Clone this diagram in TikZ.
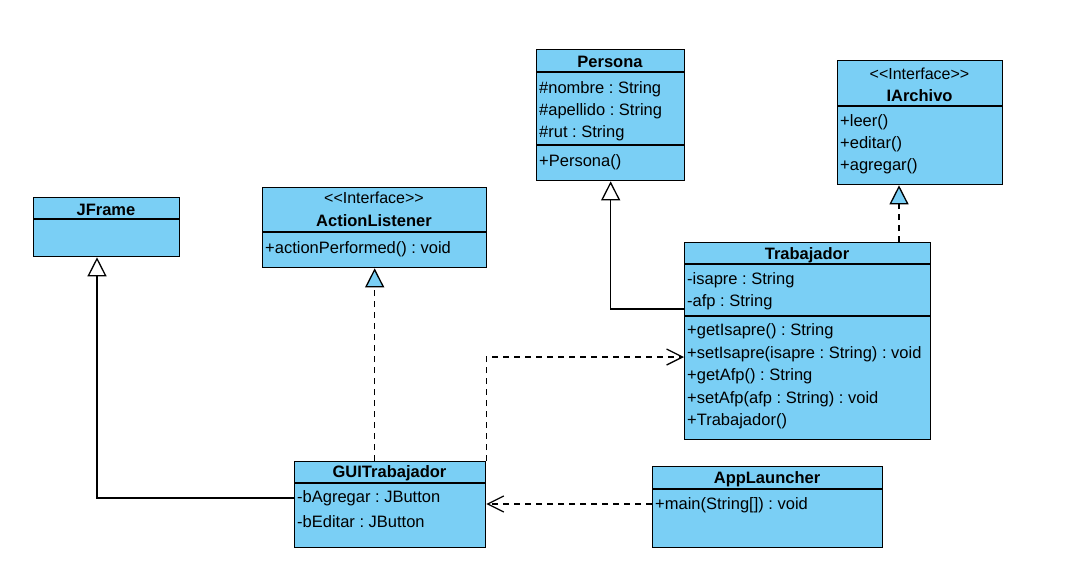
\documentclass[tikz,border=0pt]{standalone}
\usepackage{fontspec}
\setmainfont{Liberation Sans}
\usetikzlibrary{arrows.meta,calc}
\definecolor{umlblue}{RGB}{122,207,245}
\frenchspacing
\tikzset{
 box/.style={draw=black, fill=umlblue, line width=1.3pt, anchor=north west, inner sep=0pt},
 sep/.style={line width=1.3pt},
 txt/.style={anchor=west, inner sep=0pt, font=\fontsize{16.5}{18}\selectfont},
 ttl/.style={inner sep=0pt, font=\fontsize{16.5}{18}\selectfont\bfseries},
 ster/.style={inner sep=0pt, font=\fontsize{16}{18}\selectfont},
 gen/.style={line width=1.3pt, -{Triangle[length=19pt,width=19pt,fill=white]}},
 real/.style={line width=1.3pt, dash pattern=on 6pt off 5pt, -{Triangle[length=19pt,width=19pt,fill=umlblue]}},
 dep/.style={line width=1.3pt, dash pattern=on 6pt off 5pt, -{Straight Barb[length=16pt,width=16pt]}},
}
\newcommand{\ifc}{{<}{<}Interface{>}{>}}
\begin{document}
\begin{tikzpicture}[x=1pt,y=-1pt]
\fill[white] (0,0) rectangle (1078,565);
\useasboundingbox (0,0) rectangle (1078,565);

% Persona
\node[box, minimum width=148pt, minimum height=131pt] (persona) at (536,49) {};
\draw[sep] (536,72) -- (684,72);
\draw[sep] (536,145) -- (684,145);
\node[ttl] (personaT) at (610,62) {Persona};
\node[txt] (p1) at (539,89.5) {\#nombre : String};
\node[txt] (p2) at (539,111.5) {\#apellido : String};
\node[txt] (p3) at (539,133.5) {\#rut : String};
\node[txt] (p4) at (539,162.5) {+Persona()};

% IArchivo
\node[box, minimum width=165pt, minimum height=124pt] (iarch) at (837,60) {};
\draw[sep] (837,106) -- (1002,106);
\node[ster] (iaS) at (919.5,74) {\ifc};
\node[ttl] (iaT) at (919.5,96) {IArchivo};
\node[txt] (ia1) at (840,122.5) {+leer()};
\node[txt] (ia2) at (840,144.5) {+editar()};
\node[txt] (ia3) at (840,166.5) {+agregar()};

% ActionListener
\node[box, minimum width=224pt, minimum height=80pt] (al) at (262,187) {};
\draw[sep] (262,232) -- (486,232);
\node[ster] (alS) at (374,198) {\ifc};
\node[ttl] (alT) at (374,221) {ActionListener};
\node[txt] (al1) at (265,249.5) {+actionPerformed() : void};

% JFrame
\node[box, minimum width=146pt, minimum height=59pt] (jframe) at (33,197) {};
\draw[sep] (33,219) -- (179,219);
\node[ttl] (jfT) at (106,210) {JFrame};

% Trabajador
\node[box, minimum width=246pt, minimum height=197pt] (trab) at (684,242) {};
\draw[sep] (684,264) -- (930,264);
\node[ttl] (trT) at (807,255) {Trabajador};
\node[txt] (t1) at (687,280.5) {-isapre : String};
\node[txt] (t2) at (687,302.5) {-afp : String};
\draw[sep] (684,316) -- (930,316);
\node[txt] (t3) at (687,331.5) {+getIsapre() : String};
\node[txt] (t4) at (687,354.5) {+setIsapre(isapre : String) : void};
\node[txt] (t5) at (687,376.5) {+getAfp() : String};
\node[txt] (t6) at (687,399.5) {+setAfp(afp : String) : void};
\node[txt] (t7) at (687,421.5) {+Trabajador()};

% GUITrabajador
\node[box, minimum width=191pt, minimum height=86pt] (gui) at (294,461) {};
\draw[sep] (294,483) -- (485,483);
\node[ttl] (gT) at (389.5,473) {GUITrabajador};
\node[txt] (g1) at (297,498.5) {-bAgregar : JButton};
\node[txt] (g2) at (297,521.5) {-bEditar : JButton};

% AppLauncher
\node[box, minimum width=230pt, minimum height=81pt] (app) at (652,466) {};
\draw[sep] (652,489) -- (882,489);
\node[ttl] (aT) at (767,479) {AppLauncher};
\node[txt] (a1) at (655,505.5) {+main(String[]) : void};

% connectors
\coordinate (pg) at ($(trab.north west)+(0,67)$);
\draw[gen] (pg) -| (persona.south);

\coordinate (ia) at ($(iarch.south west)+(62,0)$);
\draw[real] (ia |- trab.north) -- (ia);

\draw[real] (gui.north -| al.south) -- (al.south);

\coordinate (jf) at ($(jframe.south west)+(64,0)$);
\coordinate (gj) at ($(gui.north west)+(0,37)$);
\draw[gen] (gj) -| (jf);

\coordinate (td) at ($(trab.north west)+(0,115)$);
\draw[dep] (gui.north east) |- (td);

\coordinate (ad) at ($(app.north west)+(0,38)$);
\draw[dep] (ad) -- (ad -| gui.east);
\end{tikzpicture}
\end{document}
